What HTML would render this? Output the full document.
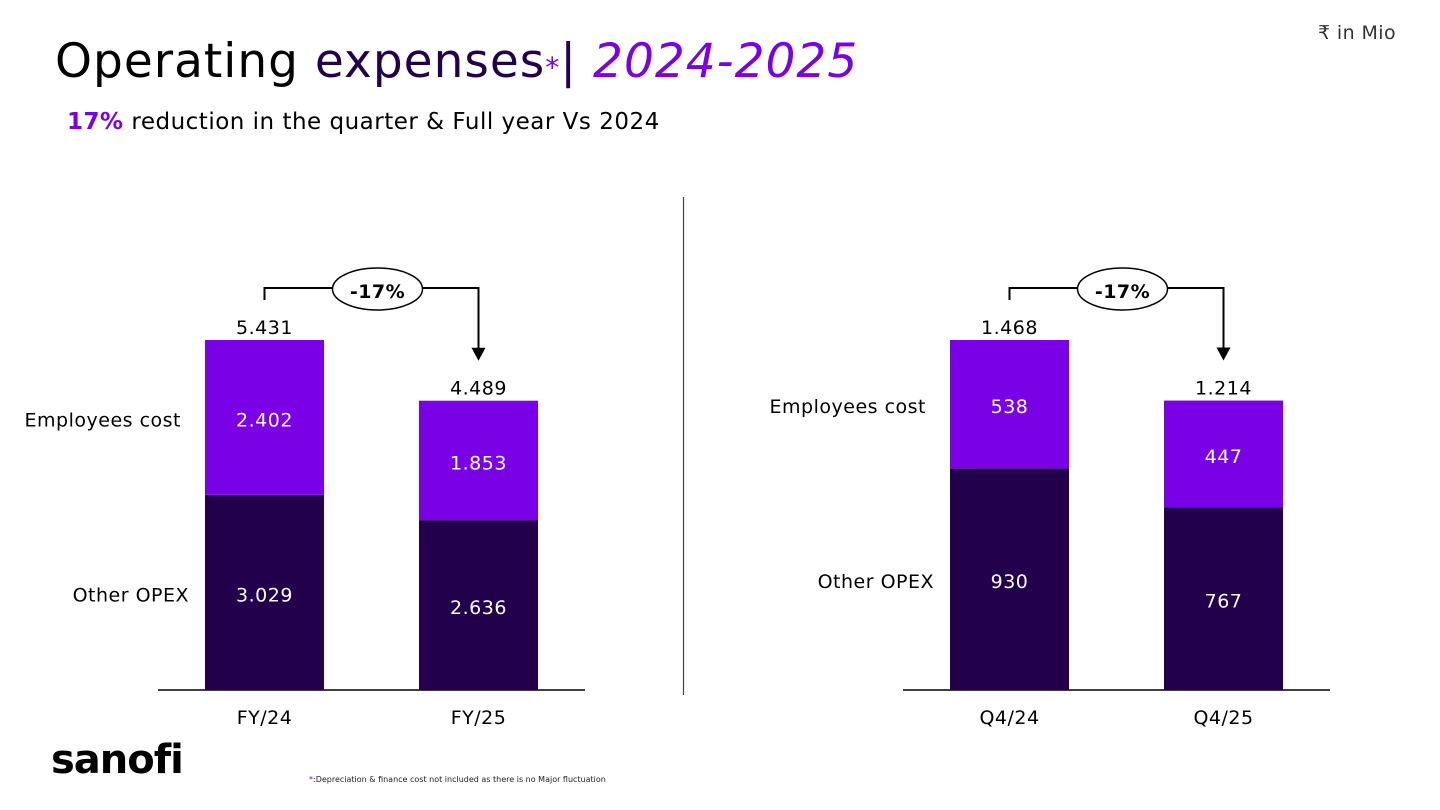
<!DOCTYPE html>
<html><head><meta charset="utf-8"><style>
body{margin:0;width:1440px;height:810px;background:#fff;font-family:"DejaVu Sans","Liberation Sans",sans-serif;position:relative;overflow:hidden}
.t{position:absolute;white-space:nowrap}
</style></head><body>
<div class="t" style="left:55px;top:34px;font-size:47px;color:#000;letter-spacing:1px">Operating <span style="color:#23004c">expenses</span><span style="color:#7a00e6;font-size:28px">*</span><span style="color:#23004c">| </span><i style="color:#7a00e6">2024-2025</i></div>
<div class="t" style="left:67px;top:109px;font-size:23px;letter-spacing:0.5px"><b style="color:#7a00e6">17%</b> reduction in the quarter &amp; Full year Vs 2024</div>
<div class="t" style="left:1318px;top:22px;font-size:19px;color:#333;letter-spacing:0.4px">₹ in Mio</div>
<div class="t" style="left:51px;top:737px;font-size:40px;font-weight:bold;letter-spacing:-1px">sanofi</div>
<div class="t" style="left:309px;top:775px;font-size:8px;color:#222"><span style="color:#7a00e6">*</span>:Depreciation &amp; finance cost not included as there is no Major fluctuation</div>
<svg id="s" width="1440" height="810" style="position:absolute;left:0;top:0" font-family="DejaVu Sans, Liberation Sans, sans-serif" letter-spacing="0.5"></svg>
<script>
const ns="http://www.w3.org/2000/svg";
const svg=document.getElementById('s');
const categoriesL=["FY/24","FY/25"];
const otherL=[3029,2636];
const empL=[2402,1853];
const totalLabelsL=["5.431","4.489"];
const otherLabelsL=["3.029","2.636"];
const empLabelsL=["2.402","1.853"];
const categoriesR=["Q4/24","Q4/25"];
const otherR=[930,767];
const empR=[538,447];
const totalLabelsR=["1.468","1.214"];
const otherLabelsR=["930","767"];
const empLabelsR=["538","447"];
const changeLabel="-17%";
function el(tag,a,txt){const e=document.createElementNS(ns,tag);for(const k in a)e.setAttribute(k,a[k]);if(txt!==undefined)e.textContent=txt;svg.appendChild(e);return e;}
function chart(x0,cats,oth,emp,tl,ol,el2,maxTotal,side){
  const base=690,h=350,bw=119,xs=[x0+47,x0+261];
  const y=v=>base-v/maxTotal*h;
  let e=el('line',{x1:x0,x2:x0+427,y1:base,y2:base,stroke:'#000','stroke-width':1.5});
  
  const tops=[];
  cats.forEach((c,i)=>{
    const x=xs[i],yo=y(oth[i]),yt=y(oth[i]+emp[i]);tops.push(yt);
    let r=el('rect',{x:x,y:yo,width:bw,height:base-yo,fill:'#23004c'});
    
    r=el('rect',{x:x,y:yt,width:bw,height:yo-yt,fill:'#7a00e6'});
    
    let t=el('text',{x:x+bw/2,y:(yo+base)/2+9,'text-anchor':'middle','font-size':19,fill:'#fff'},ol[i]);
    
    t=el('text',{x:x+bw/2,y:(yt+yo)/2+9,'text-anchor':'middle','font-size':19,fill:'#fff'},el2[i]);
    
    t=el('text',{x:x+bw/2,y:yt-6,'text-anchor':'middle','font-size':19,fill:'#000'},tl[i]);
    
    t=el('text',{x:x+bw/2,y:724,'text-anchor':'middle','font-size':19,fill:'#000'},c);
    
  });
  const y0o=y(oth[0]),y0t=y(oth[0]+emp[0]);
  let t=el('text',{x:xs[0]-16,y:(y0o+base)/2+9,'text-anchor':'end','font-size':19},'Other OPEX');
  
  t=el('text',{x:xs[0]-24,y:(y0t+y0o)/2+9,'text-anchor':'end','font-size':19},'Employees cost');
  
  const xa=xs[0]+bw/2,xb=xs[1]+bw/2,yb=288;
  let p=el('path',{d:`M${xa} ${tops[0]-40} V${yb} H${xb} V${tops[1]-50}`,fill:'none',stroke:'#000','stroke-width':2});
  
  p=el('path',{d:`M${xb-7} ${tops[1]-53} L${xb+7} ${tops[1]-53} L${xb} ${tops[1]-40} Z`,fill:'#000'});
  
  const cx=(xa+xb)/2+6;
  p=el('ellipse',{cx:cx,cy:yb+1,rx:45,ry:21,fill:'#fff',stroke:'#000','stroke-width':1.5});
  
  t=el('text',{x:cx,y:yb+10,'text-anchor':'middle','font-size':19,'font-weight':'bold'},changeLabel);
  
}
chart(158,categoriesL,otherL,empL,totalLabelsL,otherLabelsL,empLabelsL,5431,'left');
chart(903,categoriesR,otherR,empR,totalLabelsR,otherLabelsR,empLabelsR,1468,'right');
const d=el('line',{x1:683.5,x2:683.5,y1:197,y2:695,stroke:'#444','stroke-width':1.2});

</script>
</body></html>
